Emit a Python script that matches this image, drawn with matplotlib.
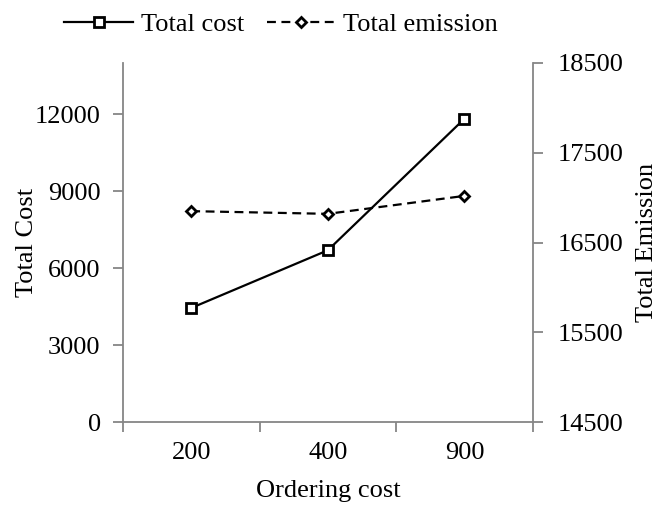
import matplotlib.pyplot as plt

plt.rcParams['font.family'] = ['Liberation Serif', 'DejaVu Serif']

ordering_cost = ['200', '400', '900']
total_cost = [4450, 6700, 11830]
total_emission = [16850, 16820, 17020]

cost_ticks = [0, 3000, 6000, 9000, 12000]
emission_ticks = [14500, 15500, 16500, 17500, 18500]

grey = '#868686'
fs = 19

fig = plt.figure(figsize=(6.57, 5.08), dpi=100)
ax = fig.add_axes([0.187, 0.169, 0.624, 0.707])
ax2 = ax.twinx()

x = list(range(len(ordering_cost)))
l1, = ax.plot(x, total_cost, color='black', lw=1.6, marker='s', ms=7.5,
              mfc='white', mec='black', mew=2, label='Total cost')
l2, = ax2.plot(x, total_emission, color='black', lw=1.6, ls=(0, (4, 2.5)),
               marker='D', ms=5.5, mfc='white', mec='black', mew=2,
               label='Total emission')

ax.set_xlim(-0.5, 2.5)
ax.set_ylim(0, 14000)
ax2.set_ylim(14500, 18500)

# category ticks sit between the categories
ax.set_xticks([-0.5, 0.5, 1.5, 2.5])
ax.set_xticklabels([])
ax.set_xticks(x, minor=True)
ax.set_xticklabels(ordering_cost, minor=True, fontsize=fs)
ax.tick_params(axis='x', which='minor', length=0, pad=14)
ax.tick_params(axis='x', which='major', length=7, color=grey, width=1.3)

ax.set_yticks(cost_ticks)
ax.set_yticklabels([str(v) for v in cost_ticks], fontsize=fs)
ax.tick_params(axis='y', length=7, color=grey, width=1.3, pad=9)
ax2.set_yticks(emission_ticks)
ax2.set_yticklabels([str(v) for v in emission_ticks], fontsize=fs)
ax2.tick_params(axis='y', length=7, color=grey, width=1.3, pad=11)

for a in (ax, ax2):
    a.spines['top'].set_visible(False)
    for s in ('left', 'right', 'bottom'):
        a.spines[s].set_color(grey)
        a.spines[s].set_linewidth(1.3)
ax.spines['right'].set_visible(False)
ax2.spines['left'].set_visible(False)
ax2.spines['bottom'].set_visible(False)

ax.set_xlabel('Ordering cost', fontsize=fs, labelpad=12)
ax.set_ylabel('Total Cost', fontsize=fs, labelpad=-2)
ax2.set_ylabel('Total Emission', fontsize=fs, labelpad=8.5)

fig.legend(handles=[l1, l2], loc='center', bbox_to_anchor=(0.428, 0.952),
           ncol=2, frameon=False, fontsize=fs, handlelength=2.6,
           columnspacing=0.85, handletextpad=0.3)

fig.savefig('out.png', dpi=100)
